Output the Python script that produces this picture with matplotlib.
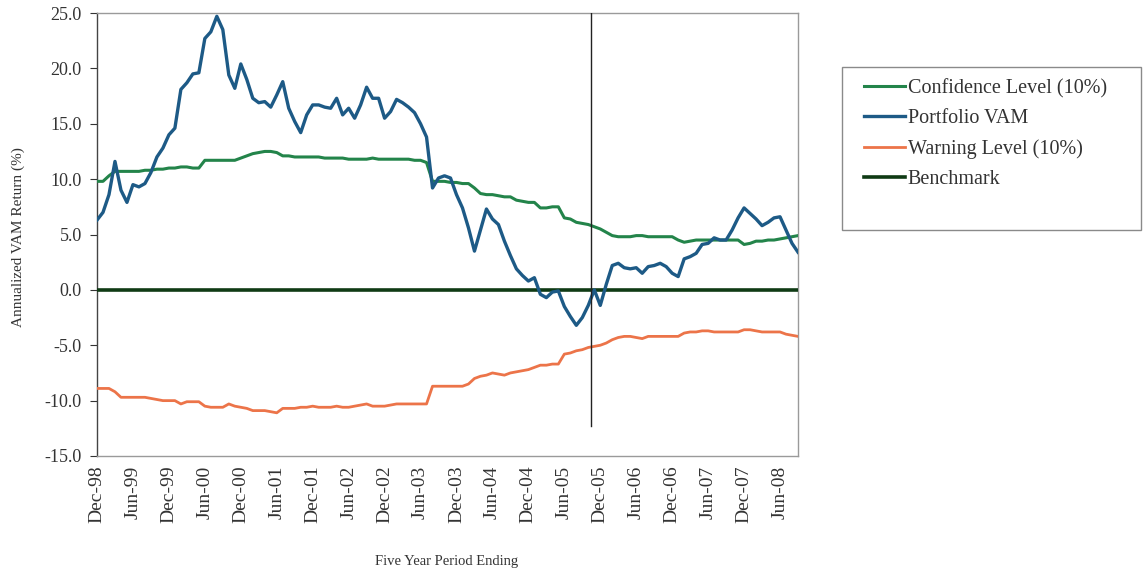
import matplotlib
matplotlib.use("Agg")
import matplotlib.pyplot as plt
from matplotlib.patches import Rectangle

plt.rcParams['font.family'] = ['Liberation Serif', 'DejaVu Serif']

# month index 0 = Dec-98, monthly to Sep-08
tick_labels = ["Dec-98", "Jun-99", "Dec-99", "Jun-00", "Dec-00", "Jun-01", "Dec-01",
               "Jun-02", "Dec-02", "Jun-03", "Dec-03", "Jun-04", "Dec-04", "Jun-05",
               "Dec-05", "Jun-06", "Dec-06", "Jun-07", "Dec-07", "Jun-08"]

portfolio_vam = [
    6.3, 7.0, 8.6, 11.6, 9.0, 7.9, 9.5, 9.3, 9.6, 10.6,
    12.0, 12.8, 14.0, 14.6, 18.1, 18.7, 19.5, 19.6, 22.7, 23.3,
    24.7, 23.5, 19.4, 18.2, 20.4, 19.0, 17.3, 16.9, 17.0, 16.5,
    17.6, 18.8, 16.4, 15.2, 14.2, 15.8, 16.7, 16.7, 16.5, 16.4,
    17.3, 15.8, 16.4, 15.5, 16.7, 18.3, 17.3, 17.3, 15.5, 16.1,
    17.2, 16.9, 16.5, 16.0, 15.0, 13.8, 9.2, 10.1, 10.3, 10.1,
    8.6, 7.4, 5.6, 3.5, 5.4, 7.3, 6.4, 5.9, 4.4, 3.1,
    1.9, 1.3, 0.8, 1.1, -0.4, -0.7, -0.2, -0.1, -1.5, -2.4,
    -3.2, -2.5, -1.4, 0.0, -1.4, 0.5, 2.2, 2.4, 2.0, 1.9,
    2.0, 1.5, 2.1, 2.2, 2.4, 2.1, 1.5, 1.2, 2.8, 3.0,
    3.3, 4.1, 4.2, 4.7, 4.5, 4.5, 5.4, 6.5, 7.4, 6.9,
    6.4, 5.8, 6.1, 6.5, 6.6, 5.4, 4.2, 3.4]

confidence_level = [
    9.8, 9.8, 10.3, 10.7, 10.7, 10.7, 10.7, 10.7, 10.8, 10.8,
    10.9, 10.9, 11.0, 11.0, 11.1, 11.1, 11.0, 11.0, 11.7, 11.7,
    11.7, 11.7, 11.7, 11.7, 11.9, 12.1, 12.3, 12.4, 12.5, 12.5,
    12.4, 12.1, 12.1, 12.0, 12.0, 12.0, 12.0, 12.0, 11.9, 11.9,
    11.9, 11.9, 11.8, 11.8, 11.8, 11.8, 11.9, 11.8, 11.8, 11.8,
    11.8, 11.8, 11.8, 11.7, 11.7, 11.5, 9.8, 9.8, 9.8, 9.7,
    9.7, 9.6, 9.6, 9.2, 8.7, 8.6, 8.6, 8.5, 8.4, 8.4,
    8.1, 8.0, 7.9, 7.9, 7.4, 7.4, 7.5, 7.5, 6.5, 6.4,
    6.1, 6.0, 5.9, 5.7, 5.5, 5.2, 4.9, 4.8, 4.8, 4.8,
    4.9, 4.9, 4.8, 4.8, 4.8, 4.8, 4.8, 4.5, 4.3, 4.4,
    4.5, 4.5, 4.5, 4.5, 4.5, 4.5, 4.5, 4.5, 4.1, 4.2,
    4.4, 4.4, 4.5, 4.5, 4.6, 4.7, 4.8, 4.9]

warning_level = [
    -8.9, -8.9, -8.9, -9.2, -9.7, -9.7, -9.7, -9.7, -9.7, -9.8,
    -9.9, -10.0, -10.0, -10.0, -10.3, -10.1, -10.1, -10.1, -10.5, -10.6,
    -10.6, -10.6, -10.3, -10.5, -10.6, -10.7, -10.9, -10.9, -10.9, -11.0,
    -11.1, -10.7, -10.7, -10.7, -10.6, -10.6, -10.5, -10.6, -10.6, -10.6,
    -10.5, -10.6, -10.6, -10.5, -10.4, -10.3, -10.5, -10.5, -10.5, -10.4,
    -10.3, -10.3, -10.3, -10.3, -10.3, -10.3, -8.7, -8.7, -8.7, -8.7,
    -8.7, -8.7, -8.5, -8.0, -7.8, -7.7, -7.5, -7.6, -7.7, -7.5,
    -7.4, -7.3, -7.2, -7.0, -6.8, -6.8, -6.7, -6.7, -5.8, -5.7,
    -5.5, -5.4, -5.2, -5.1, -5.0, -4.8, -4.5, -4.3, -4.2, -4.2,
    -4.3, -4.4, -4.2, -4.2, -4.2, -4.2, -4.2, -4.2, -3.9, -3.8,
    -3.8, -3.7, -3.7, -3.8, -3.8, -3.8, -3.8, -3.8, -3.6, -3.6,
    -3.7, -3.8, -3.8, -3.8, -3.8, -4.0, -4.1, -4.2]

benchmark = [0.0] * len(portfolio_vam)

# vertical marker (month index, bottom value)
marker_month = 82.5
marker_bottom = -12.3

months = list(range(len(portfolio_vam)))

fig = plt.figure(figsize=(11.44, 5.70), dpi=100)
ax = fig.add_axes([97 / 1144, 1 - 456 / 570, (798 - 97) / 1144, (456 - 13) / 570])

c_conf = "#23844a"
c_vam = "#1d5a86"
c_warn = "#ec7449"
c_bench = "#0f3a14"

ax.plot(months, benchmark, color=c_bench, lw=2.6, zorder=3, label="Benchmark")
ax.plot(months, confidence_level, color=c_conf, lw=2.2, zorder=4, label="Confidence Level (10%)")
ax.plot(months, warning_level, color=c_warn, lw=2.0, zorder=4, label="Warning Level (10%)")
ax.plot(months, portfolio_vam, color=c_vam, lw=2.4, zorder=5, label="Portfolio VAM")
ax.plot([marker_month, marker_month], [25, marker_bottom], color="#222222", lw=1.0, zorder=6)

ax.set_xlim(0, len(months) - 1)
ax.set_ylim(-15, 25)
yt = [-15, -10, -5, 0, 5, 10, 15, 20, 25]
ax.set_yticks(yt)
ax.set_yticklabels([f"{v:.1f}" for v in yt], fontsize=13)
ax.set_xticks([6 * i for i in range(len(tick_labels))])
ax.set_xticklabels(tick_labels, rotation=90, fontsize=14)
ax.tick_params(axis='y', direction='out', length=5, width=0.8, colors="#333333", pad=6)
ax.tick_params(axis='x', direction='out', length=0, pad=7, colors="#333333")
for lbl in ax.get_xticklabels() + ax.get_yticklabels():
    lbl.set_color("#333333")

for side in ["top", "right", "bottom"]:
    ax.spines[side].set_color("#9a9a9a")
    ax.spines[side].set_linewidth(1.0)
ax.spines["left"].set_color("#444444")
ax.spines["left"].set_linewidth(1.0)

fig.text(18 / 1144, 1 - 237 / 570, "Annualized VAM Return (%)", rotation=90,
         ha="center", va="center", fontsize=11, color="#333333")
fig.text(447 / 1144, 1 - 561 / 570, "Five Year Period Ending", ha="center", va="center",
         fontsize=10.5, color="#333333")

# legend box
fig.patches.append(Rectangle((842 / 1144, 1 - 230 / 570), (1141 - 842) / 1144, (230 - 67) / 570,
                             transform=fig.transFigure, fill=True, facecolor="white",
                             edgecolor="#8a8a8a", lw=1.0))
handles = {h.get_label(): h for h in ax.get_lines() if not h.get_label().startswith("_")}
order = ["Confidence Level (10%)", "Portfolio VAM", "Warning Level (10%)", "Benchmark"]
leg = fig.legend([handles[k] for k in order], order, loc="upper left",
                 bbox_to_anchor=(864 / 1144, 1 - 79 / 570), frameon=False,
                 fontsize=14.5, handlelength=2.05, handletextpad=0.12, labelspacing=0.54,
                 borderaxespad=0, borderpad=0)
for t in leg.get_texts():
    t.set_color("#333333")

fig.savefig("out.png", dpi=100, facecolor="white")
